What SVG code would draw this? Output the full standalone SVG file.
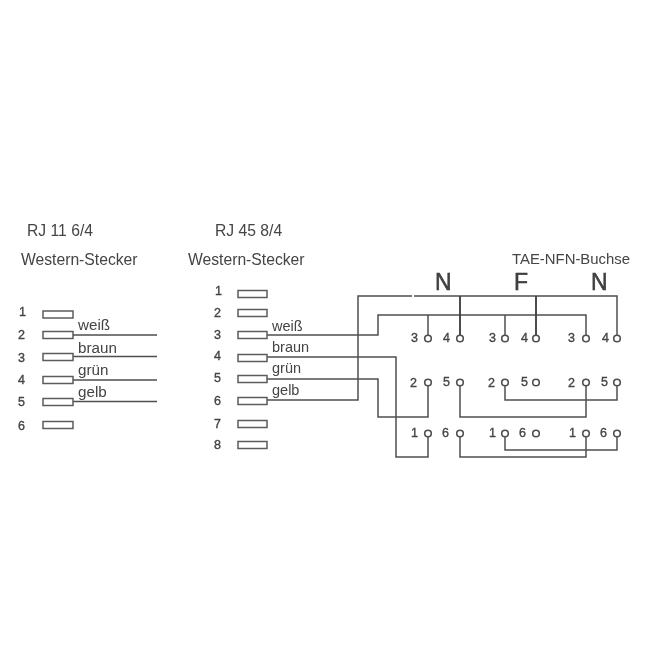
<svg xmlns="http://www.w3.org/2000/svg" width="650" height="650" viewBox="0 0 650 650">
<style>
text{font-family:"Liberation Sans",Arial,sans-serif;fill:#444}
.t{font-size:15.700px}
.n{font-size:12.500px;stroke:#444;stroke-width:.35}
.l{font-size:15.200px}
.b{font-size:23px;stroke:#333;stroke-width:.5}
.h{font-size:14.900px}
.p{fill:#fff;stroke:#5c5c5c;stroke-width:1.5}
.c{fill:#fff;stroke:#505050;stroke-width:1.6}
.w{fill:none;stroke:#505050;stroke-width:1.5}
.k{fill:none;stroke:#444;stroke-width:1.900}
</style>
<defs>
<filter id="soft" x="-5%" y="-5%" width="110%" height="110%"><feGaussianBlur stdDeviation="0.35"/></filter>
<rect id="pl" class="p" x="-15" y="-3.500" width="30" height="7"/>
<rect id="pr" class="p" x="-14.500" y="-3.500" width="29" height="7"/>
<circle id="o" class="c" r="3.300"/>
</defs>
<rect width="650" height="650" fill="#fff"/>
<g filter="url(#soft)">
<g id="connectors">
<path class="w" d="M73 335H157M73 356.500H157M73 380H157M73 401.500H157"/>
<path class="w" d="M267 335H378V315H586V335"/>
<path class="w" d="M428 315V335M505 315V335"/>
<path class="w" d="M267 357H396V457H428V437"/>
<path class="w" d="M267 379H378V417H428V386"/>
<path class="w" d="M267 400H358V296H412M414 296H617V335"/>
<path class="k" d="M460 296V335M536 296V335"/>
<path class="w" d="M460 386V417H586V386"/>
<path class="w" d="M505 386V400H617V386"/>
<path class="w" d="M460 437V457H586V437"/>
<path class="w" d="M505 437V450H617V437"/>
</g>
<g id="rj11">
<text class="t" x="27" y="236">RJ 11 6/4</text>
<text class="t" x="21" y="265">Western-Stecker</text>
<text class="n" x="19" y="316">1</text><use href="#pl" x="58" y="314.500"/>
<text class="n" x="18" y="339">2</text><use href="#pl" x="58" y="335"/>
<text class="n" x="18" y="362">3</text><use href="#pl" x="58" y="357"/>
<text class="n" x="18" y="384">4</text><use href="#pl" x="58" y="380"/>
<text class="n" x="18" y="406">5</text><use href="#pl" x="58" y="402"/>
<text class="n" x="18" y="430">6</text><use href="#pl" x="58" y="425"/>
<text class="l" x="78" y="330">weiß</text>
<text class="l" x="78" y="353">braun</text>
<text class="l" x="78" y="375">grün</text>
<text class="l" x="78" y="397">gelb</text>
</g>
<g id="rj45">
<text class="t" x="215" y="236">RJ 45 8/4</text>
<text class="t" x="188" y="265">Western-Stecker</text>
<text class="n" x="215" y="295">1</text><use href="#pr" x="252.500" y="294"/>
<text class="n" x="214" y="317">2</text><use href="#pr" x="252.500" y="313"/>
<text class="n" x="214" y="339">3</text><use href="#pr" x="252.500" y="335"/>
<text class="n" x="214" y="360">4</text><use href="#pr" x="252.500" y="358"/>
<text class="n" x="214" y="382">5</text><use href="#pr" x="252.500" y="379"/>
<text class="n" x="214" y="405">6</text><use href="#pr" x="252.500" y="401"/>
<text class="n" x="214" y="428">7</text><use href="#pr" x="252.500" y="424"/>
<text class="n" x="214" y="449">8</text><use href="#pr" x="252.500" y="445"/>
<text class="l" x="272" y="331" style="font-size:14.500px">weiß</text>
<text class="l" x="272" y="352" style="font-size:14.500px">braun</text>
<text class="l" x="272" y="373" style="font-size:14.500px">grün</text>
<text class="l" x="272" y="395" style="font-size:14.500px">gelb</text>
</g>
<g id="tae">
<text class="h" x="512" y="264">TAE-NFN-Buchse</text>
<text class="b" x="435" y="290">N</text>
<text class="b" x="514" y="290">F</text>
<text class="b" x="591" y="290">N</text>
<text class="n" x="411" y="342">3</text><use href="#o" x="428" y="338.500"/>
<text class="n" x="443" y="342">4</text><use href="#o" x="460" y="338.500"/>
<text class="n" x="489" y="342">3</text><use href="#o" x="505" y="338.500"/>
<text class="n" x="521" y="342">4</text><use href="#o" x="536" y="338.500"/>
<text class="n" x="568" y="342">3</text><use href="#o" x="586" y="338.500"/>
<text class="n" x="602" y="342">4</text><use href="#o" x="617" y="338.500"/>
<text class="n" x="410" y="387">2</text><use href="#o" x="428" y="382.500"/>
<text class="n" x="443" y="386">5</text><use href="#o" x="460" y="382.500"/>
<text class="n" x="488" y="387">2</text><use href="#o" x="505" y="382.500"/>
<text class="n" x="521" y="386">5</text><use href="#o" x="536" y="382.500"/>
<text class="n" x="568" y="387">2</text><use href="#o" x="586" y="382.500"/>
<text class="n" x="601" y="386">5</text><use href="#o" x="617" y="382.500"/>
<text class="n" x="411" y="437">1</text><use href="#o" x="428" y="433.500"/>
<text class="n" x="442" y="437">6</text><use href="#o" x="460" y="433.500"/>
<text class="n" x="489" y="437">1</text><use href="#o" x="505" y="433.500"/>
<text class="n" x="519" y="437">6</text><use href="#o" x="536" y="433.500"/>
<text class="n" x="569" y="437">1</text><use href="#o" x="586" y="433.500"/>
<text class="n" x="600" y="437">6</text><use href="#o" x="617" y="433.500"/>
</g>
</g>
</svg>
